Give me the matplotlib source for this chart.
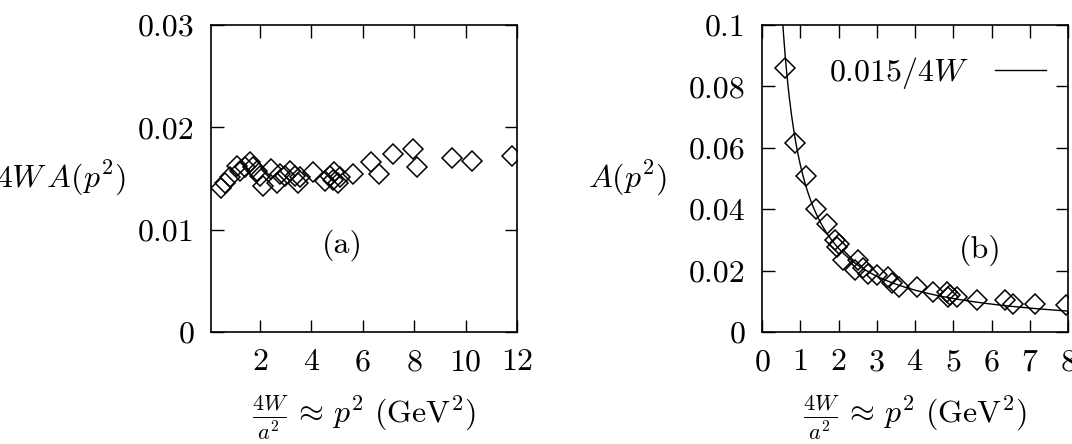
import numpy as np
import matplotlib
matplotlib.use("Agg")
import matplotlib.pyplot as plt

plt.rcParams['font.family'] = 'serif'
plt.rcParams['font.serif'] = ['cmr10', 'DejaVu Serif']
plt.rcParams['mathtext.fontset'] = 'cm'
plt.rcParams['axes.formatter.use_mathtext'] = True
plt.rcParams['font.size'] = 23

# panel (a): 4W A(p^2) vs p^2
x_a = [0.48, 0.65, 0.84, 1.10, 1.23, 1.42, 1.61, 1.74, 1.87, 2.00, 2.13, 2.45,
       2.65, 2.77, 2.97, 3.16, 3.35, 3.48, 3.55, 4.06, 4.52, 4.71, 4.84, 4.90,
       5.03, 5.10, 5.61, 6.32, 6.65, 7.16, 7.94, 8.13, 9.48, 10.26, 11.81]
y_a = [0.0141, 0.0146, 0.0151, 0.0162, 0.0157, 0.0161, 0.0166, 0.0161, 0.0157,
       0.0152, 0.0143, 0.0159, 0.0146, 0.0154, 0.0152, 0.0157, 0.0152, 0.0146,
       0.0151, 0.0156, 0.0148, 0.0152, 0.0149, 0.0156, 0.0146, 0.0151, 0.0154,
       0.0166, 0.0154, 0.0174, 0.0179, 0.0161, 0.0170, 0.0167, 0.0172]

# panel (b): A(p^2) vs p^2
x_b = [0.61, 0.87, 1.16, 1.41, 1.70, 1.91, 2.00, 1.96, 2.13, 2.52, 2.43, 2.65,
       2.78, 3.00, 3.30, 3.39, 3.57, 4.04, 4.48, 4.83, 4.87, 4.91, 5.09, 5.61,
       6.35, 6.57, 7.13, 7.96]
y_b = [0.0859, 0.0616, 0.0508, 0.0402, 0.0353, 0.0299, 0.0288, 0.0277, 0.0234,
       0.0236, 0.0201, 0.0207, 0.0190, 0.0185, 0.0179, 0.0158, 0.0147, 0.0147,
       0.0130, 0.0130, 0.0114, 0.0120, 0.0114, 0.0103, 0.0103, 0.0092, 0.0092,
       0.0087]

fit_coef = 0.015     # A = 0.015 / 4W
a2 = 0.275           # lattice a^2 in GeV^-2, 4W = a^2 p^2

xa_ticks = [2, 4, 6, 8, 10, 12]
ya_ticks = [0, 0.01, 0.02, 0.03]
ya_labels = ['0', '0.01', '0.02', '0.03']
xb_ticks = [0, 1, 2, 3, 4, 5, 6, 7, 8]
yb_ticks = [0, 0.02, 0.04, 0.06, 0.08, 0.1]
yb_labels = ['0', '0.02', '0.04', '0.06', '0.08', '0.1']

W, H = 1072, 444
fig = plt.figure(figsize=(W / 100, H / 100), dpi=100)
ax1 = fig.add_axes([211 / W, (H - 332) / H, 306 / W, 307 / H])
ax2 = fig.add_axes([762 / W, (H - 332) / H, 306 / W, 307 / H])

xlabel = r'$\frac{4W}{a^2} \,\approx\, p^2\ (\mathrm{GeV}^2)$'

for ax in (ax1, ax2):
    ax.tick_params(direction='in', length=9, width=1, top=True, right=True, pad=12)
    for s in ax.spines.values():
        s.set_linewidth(1.2)
    ax.set_xlabel(xlabel, labelpad=12)

ax1.plot(x_a, y_a, 'D', mfc='none', mec='black', ms=10.5, mew=1.1)
ax1.set_xlim(0.1, 12)
ax1.set_ylim(0, 0.03)
ax1.set_xticks(xa_ticks)
ax1.set_yticks(ya_ticks)
ax1.set_yticklabels(ya_labels)
ax1.set_ylabel(r'$4W\,A(p^2)$', rotation=0, va='center', ha='right')
ax1.yaxis.set_label_coords(-0.28, 0.5)
ax1.text(5.2, 0.0085, '(a)', ha='center', va='center')

xc = np.linspace(0.45, 8, 400)
ax2.plot(xc, fit_coef / (a2 * xc), '-', color='black', lw=1, label=r'$0.015/4W$')
ax2.plot(x_b, y_b, 'D', mfc='none', mec='black', ms=10.5, mew=1.1)
ax2.set_xlim(0, 8)
ax2.set_ylim(0, 0.1)
ax2.set_xticks(xb_ticks)
ax2.set_yticks(yb_ticks)
ax2.set_yticklabels(yb_labels)
ax2.set_ylabel(r'$A(p^2)$', rotation=0, va='center', ha='right')
ax2.yaxis.set_label_coords(-0.31, 0.5)
ax2.text(5.7, 0.0266, '(b)', ha='center', va='center')
ax2.legend(loc='upper right', frameon=False, markerfirst=False, handlelength=1.6,
           borderaxespad=0.3, bbox_to_anchor=(1.0, 0.975))

fig.savefig('out.png', dpi=100)
